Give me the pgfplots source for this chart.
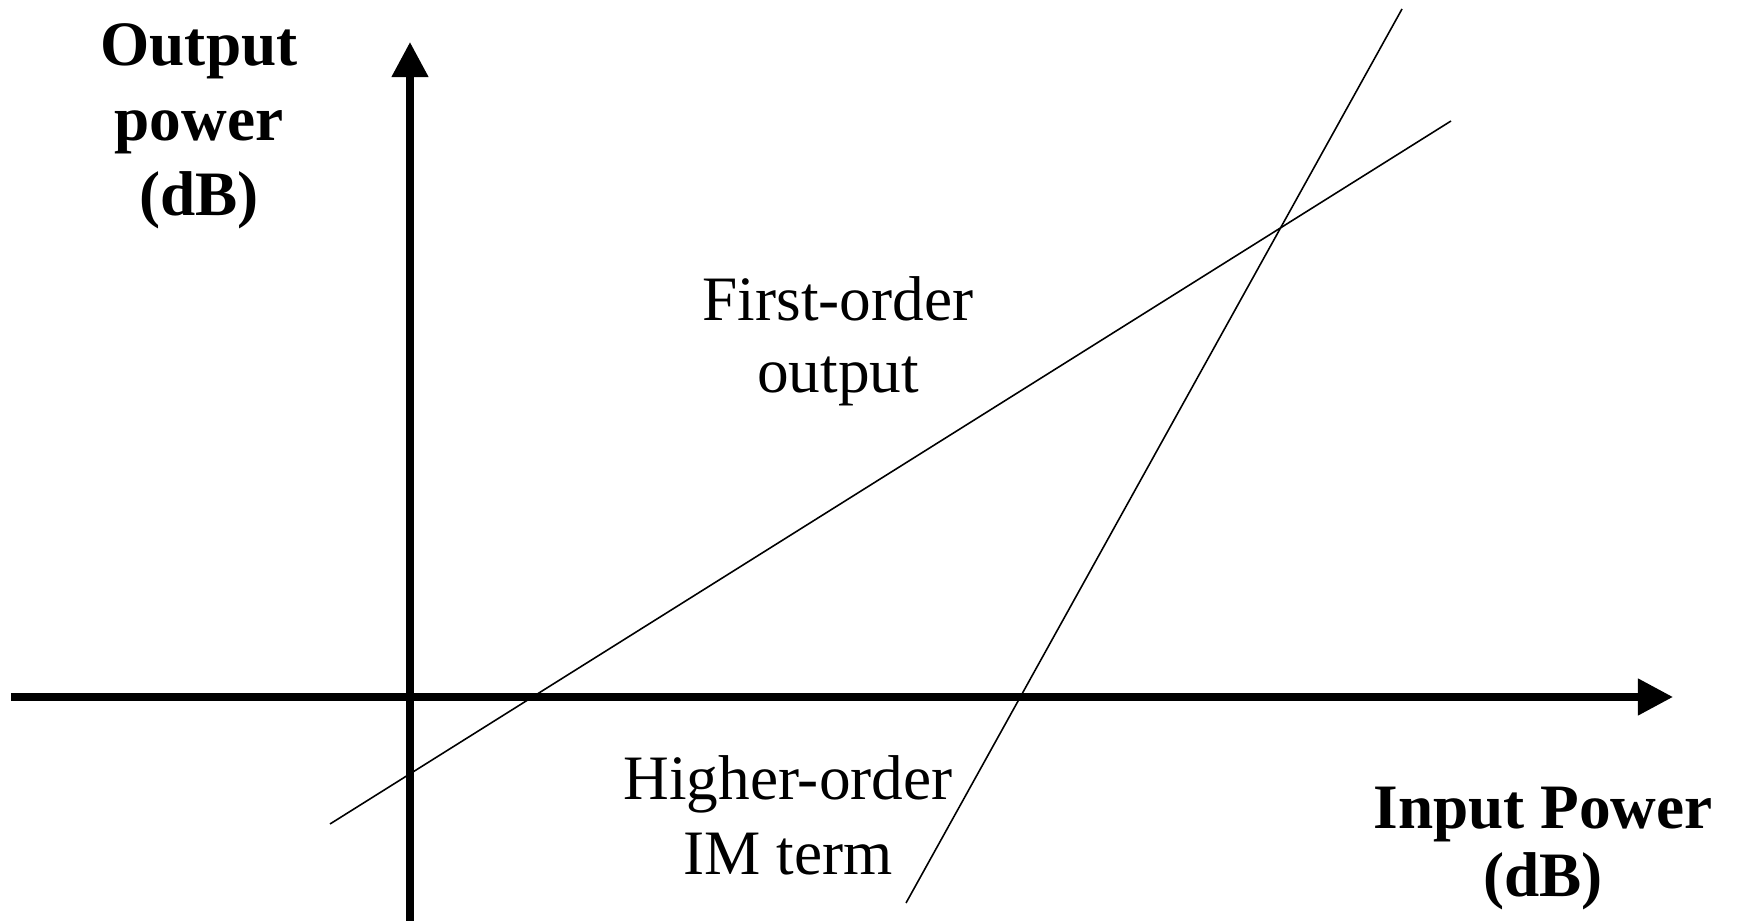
\documentclass[border=0pt]{standalone}
\usepackage{pgfplots}
\pgfplotsset{compat=1.18}
\usetikzlibrary{arrows.meta}
\usepackage{fontspec}
\setmainfont{Liberation Serif}
\begin{document}
\begin{tikzpicture}
\begin{axis}[
  x=0.1mm, y=0.1mm,
  xmin=-399, xmax=1263, ymin=-224, ymax=655,
  axis lines=middle,
  xtick=\empty, ytick=\empty,
  axis line style={line width=2.1pt, -{Triangle[width=10pt,length=10pt]}},
  clip=false,
]
% first-order output
\addplot[black, line width=0.45pt, mark=none] coordinates {(-80,-127) (1041,576)};
% higher-order IM term
\addplot[black, line width=0.45pt, mark=none] coordinates {(496,-206) (992,688)};

\coordinate (bl) at (axis cs:-410,-224);
\coordinate (tr) at (axis cs:1327,697);

\node[anchor=base, inner sep=0pt, font=\fontsize{18}{21}\selectfont\bfseries] at (axis cs:-211,631) {Output};
\node[anchor=base, inner sep=0pt, font=\fontsize{18}{21}\selectfont\bfseries] at (axis cs:-211,556) {power};
\node[anchor=base, inner sep=0pt, font=\fontsize{18}{21}\selectfont\bfseries] at (axis cs:-211,481) {(dB)};

\node[anchor=base, inner sep=0pt, font=\fontsize{18}{21}\selectfont] at (axis cs:428,376) {First-order};
\node[anchor=base, inner sep=0pt, font=\fontsize{18}{21}\selectfont] at (axis cs:428,304) {output};

\node[anchor=base, inner sep=0pt, font=\fontsize{18}{21}\selectfont] at (axis cs:378,-103) {Higher-order};
\node[anchor=base, inner sep=0pt, font=\fontsize{18}{21}\selectfont] at (axis cs:378,-178) {IM term};

\node[anchor=base, inner sep=0pt, font=\fontsize{18}{21}\selectfont\bfseries] at (axis cs:1133,-132) {Input Power};
\node[anchor=base, inner sep=0pt, font=\fontsize{18}{21}\selectfont\bfseries] at (axis cs:1133,-200) {(dB)};
\end{axis}
\pgfresetboundingbox
\path[use as bounding box] (bl) rectangle (tr);
\end{tikzpicture}
\end{document}
